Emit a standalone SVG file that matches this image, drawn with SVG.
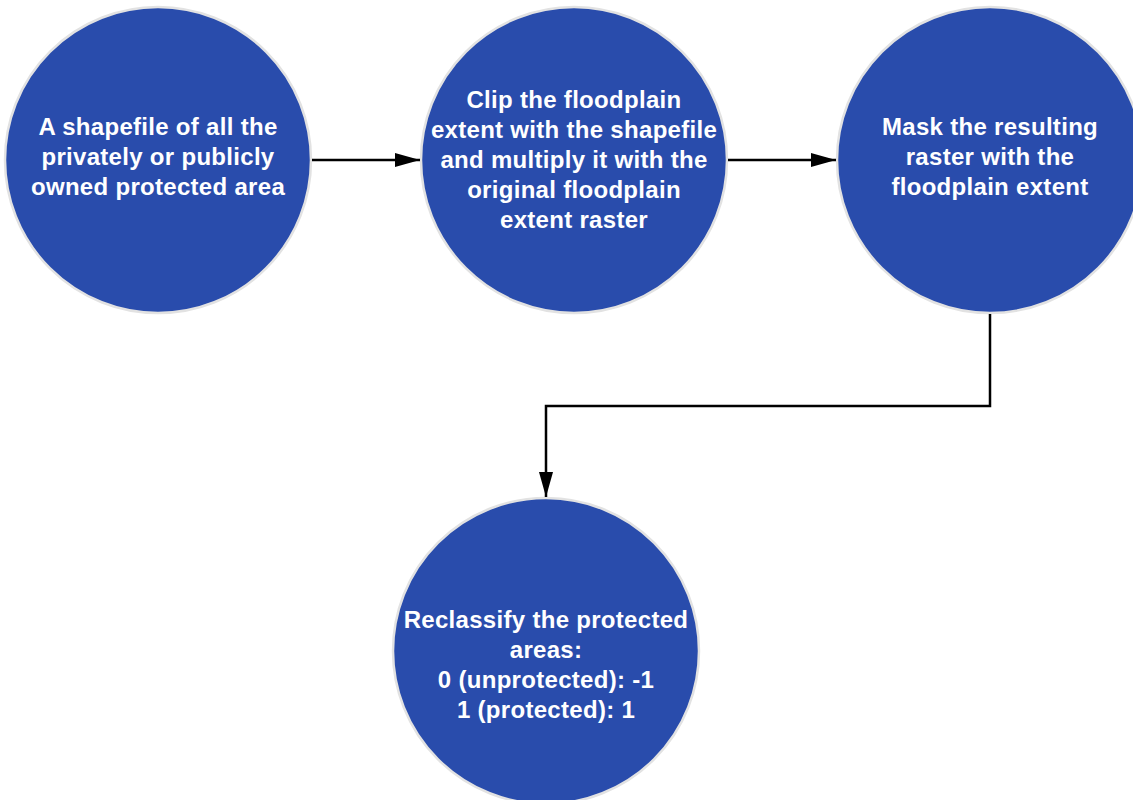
<svg xmlns="http://www.w3.org/2000/svg" width="1133" height="800" viewBox="0 0 1133 800">
<style>
.node{fill:#294cac;stroke:#e2e2e2;stroke-width:2.5}
.lbl{font-family:"Liberation Sans",Arial,sans-serif;font-weight:bold;font-size:24px;letter-spacing:0.3px;fill:#ffffff;text-anchor:middle}
.conn{fill:none;stroke:#000;stroke-width:2.5}
</style>
<defs>
<marker id="arr" markerWidth="25" markerHeight="14" refX="25" refY="7" orient="auto" markerUnits="userSpaceOnUse">
<path d="M0,0 L25,7 L0,14 Z" fill="#000"/>
</marker>
</defs>
<rect width="1133" height="800" fill="#fff"/>
<g id="n1">
<circle class="node" cx="158" cy="160" r="153"/>
<text class="lbl"><tspan x="158" y="135">A shapefile of all the</tspan><tspan x="158" y="165">privately or publicly</tspan><tspan x="158" y="195">owned protected area</tspan></text>
</g>
<g id="n2">
<circle class="node" cx="574" cy="160" r="153"/>
<text class="lbl"><tspan x="574" y="108">Clip the floodplain</tspan><tspan x="574" y="138">extent with the shapefile</tspan><tspan x="574" y="168">and multiply it with the</tspan><tspan x="574" y="198">original floodplain</tspan><tspan x="574" y="228">extent raster</tspan></text>
</g>
<g id="n3">
<circle class="node" cx="990" cy="160" r="153"/>
<text class="lbl"><tspan x="990" y="135">Mask the resulting</tspan><tspan x="990" y="165">raster with the</tspan><tspan x="990" y="195">floodplain extent</tspan></text>
</g>
<g id="n4">
<circle class="node" cx="546" cy="651" r="153"/>
<text class="lbl"><tspan x="546" y="628">Reclassify the protected</tspan><tspan x="546" y="658">areas:</tspan><tspan x="546" y="688">0 (unprotected): -1</tspan><tspan x="546" y="718">1 (protected): 1</tspan></text>
</g>
<g id="connectors">
<path class="conn" d="M312,160 L420,160" marker-end="url(#arr)"/>
<path class="conn" d="M728,160 L836,160" marker-end="url(#arr)"/>
<path class="conn" d="M990,314 L990,406 L546,406 L546,497" marker-end="url(#arr)"/>
</g>
</svg>
